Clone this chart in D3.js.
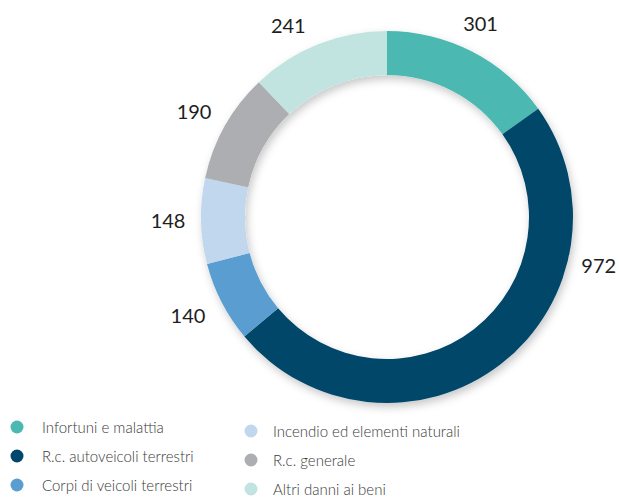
<!DOCTYPE html>
<html>
<head>
<meta charset="utf-8">
<script src="https://cdn.jsdelivr.net/npm/d3@7"></script>
<style>
  html, body { margin: 0; padding: 0; background: #fff; }
  svg { display: block; }
</style>
</head>
<body>
<div id="chart"></div>
<script>
const categories = [
  "Infortuni e malattia",
  "R.c. autoveicoli terrestri",
  "Corpi di veicoli terrestri",
  "Incendio ed elementi naturali",
  "R.c. generale",
  "Altri danni ai beni"
];
const values = [301, 972, 140, 148, 190, 241];
const colors = ["#4BB9B2", "#02466B", "#5A9ED1", "#C0D7EE", "#ADAEB2", "#C2E4E0"];

const W = 619, H = 498;
const cx = 387, cy = 217, outerR = 186, innerR = 142;

const svg = d3.select("#chart").append("svg")
  .attr("width", W).attr("height", H);

const defs = svg.append("defs");
const f = defs.append("filter").attr("id", "shadow")
  .attr("x", "-20%").attr("y", "-20%").attr("width", "140%").attr("height", "140%");
f.append("feDropShadow").attr("dx", 2).attr("dy", 4).attr("stdDeviation", 4)
  .attr("flood-color", "#000").attr("flood-opacity", 0.22);

const data = categories.map((c, i) => ({ cat: c, value: values[i], color: colors[i] }));

const pie = d3.pie().value(d => d.value).sort(null);
const arcs = pie(data);
const arc = d3.arc().innerRadius(innerR).outerRadius(outerR);

const g = svg.append("g").attr("transform", `translate(${cx},${cy})`);
g.append("g").attr("filter", "url(#shadow)")
  .selectAll("path").data(arcs).join("path")
  .attr("d", arc)
  .attr("fill", d => d.data.color);

// label placement (polar, degrees clockwise from top)
const labelPolar = [[25.8, 215], [102.7, 217], [243.7, 222], [269.3, 219], [298.7, 220], [332.8, 216]];
g.selectAll("text.val").data(arcs).join("text")
  .attr("class", "val")
  .attr("x", (d, i) => labelPolar[i][1] * Math.sin(labelPolar[i][0] * Math.PI / 180))
  .attr("y", (d, i) => -labelPolar[i][1] * Math.cos(labelPolar[i][0] * Math.PI / 180))
  .attr("text-anchor", "middle")
  .attr("dominant-baseline", "central")
  .attr("font-family", "Lato, sans-serif")
  .attr("font-size", 20)
  .attr("fill", "#1e1e1e")
  .text(d => d3.format("d")(d.data.value));

// legend
const cols = [{ cx: 17, tx: 42, y0: 427 }, { cx: 251, tx: 273, y0: 431 }];
const rowH = 29;
const leg = svg.append("g");
data.forEach((d, i) => {
  const col = cols[Math.floor(i / 3)];
  const y = col.y0 + (i % 3) * rowH;
  leg.append("circle").attr("cx", col.cx).attr("cy", y).attr("r", 6.5).attr("fill", d.color);
  leg.append("text").attr("x", col.tx).attr("y", y)
    .attr("dominant-baseline", "central")
    .attr("font-family", "Lato, sans-serif")
    .attr("font-weight", 300)
    .attr("font-size", 15)
    .attr("fill", "#3a3a3a")
    .text(d.cat);
});
</script>
</body>
</html>
